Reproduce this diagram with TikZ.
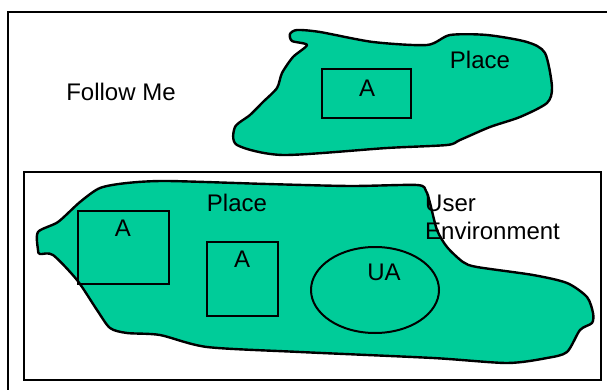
\documentclass[tikz,border=0pt]{standalone}
\usepackage{fontspec}
\setmainfont{Liberation Sans}
\usetikzlibrary{shapes.geometric}
\definecolor{placegreen}{HTML}{00CC99}
\tikzset{
  frame/.style={draw=black, line width=2pt},
  blob/.style={draw=black, line width=2.4pt, fill=placegreen, line join=round},
  agentbox/.style={draw=black, line width=2pt, rectangle, inner sep=0pt},
  lbl/.style={font=\fontsize{24}{28}\selectfont, inner sep=0pt},
}
\begin{document}
\begin{tikzpicture}[x=1pt, y=-1pt]
\useasboundingbox (0,0) rectangle (607,390);
\fill[white] (0,0) rectangle (607,390);

% outer frame, running off the right and bottom edges
\draw[frame] (8,400) -- (8,12) -- (620,12);

% user environment frame
\draw[frame] (24,172) rectangle (601,380);

% upper place (Follow Me)
\draw[blob] plot[smooth cycle, tension=0.45] coordinates {
  (290,34) (297,30) (320,32) (373,42) (427,45) (450,35) (487,35)
  (527,42) (545,53) (552,87) (547,103) (520,117) (490,127) (460,140)
  (447,145) (387,148) (283,155) (237,145) (235,127) (250,115) (263,102)
  (277,88) (282,73) (293,57) (307,45) (292,41)};

% lower place
\draw[blob] plot[smooth cycle, tension=0.45] coordinates {
  (38,232) (58,222) (80,202) (100,188) (127,183) (167,181) (267,184)
  (350,186) (417,185) (426,191) (430,203) (437,230) (447,247) (463,262)
  (477,267) (533,275) (567,283) (587,297) (593,313) (592,323) (580,330)
  (567,352) (547,358) (507,363) (433,358) (300,352) (207,347) (160,335)
  (127,333) (110,328) (97,310) (77,280) (53,255) (40,254) (38,250)};

% agents and the user agent
\node[agentbox, minimum width=89pt, minimum height=49pt] (a0) at (366.5,93.5) {};
\node[agentbox, minimum width=91pt, minimum height=73pt] (a1) at (123.5,247.5) {};
\node[agentbox, minimum width=71pt, minimum height=74pt] (a2) at (242.5,279) {};
\node[draw=black, line width=2pt, ellipse, minimum width=128pt, minimum height=86pt, inner sep=0pt] (ua) at (375,290) {};

\node[lbl] (ta0) at (367,88) {A};
\node[lbl] (ta1) at (123,228) {A};
\node[lbl] (ta2) at (242,259) {A};
\node[lbl] (tua) at (384,272) {UA};

\node[lbl] (p1) at (480,60) {Place};
\node[lbl] (p2) at (237,203) {Place};
\node[lbl] (fm) at (121,92) {Follow Me};
\node[lbl, anchor=west, align=left] (ue) at (425,217) {User\\Environment};
\end{tikzpicture}
\end{document}
